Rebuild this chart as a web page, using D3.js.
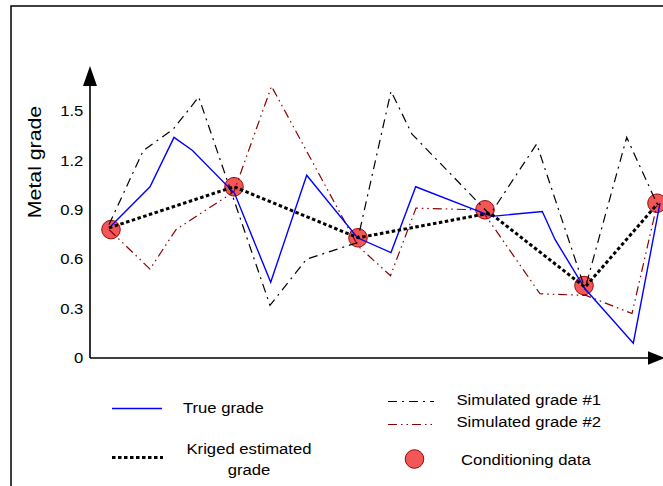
<!DOCTYPE html>
<html>
<head>
<meta charset="utf-8">
<script src="https://cdn.jsdelivr.net/npm/d3@7"></script>
<style>
  body { margin: 0; background: #fff; }
  text { font-family: "Liberation Sans", Arial, sans-serif; fill: #000; }
</style>
</head>
<body>
<div id="chart-area"></div>
<script>
// location along the profile (arbitrary units) and metal grade
var condX = [2.1, 14.4, 26.8, 39.5, 49.4, 56.7];
var condGrade = [0.78, 1.04, 0.73, 0.90, 0.44, 0.94];

var krigedX = [1.9, 14.4, 26.8, 40.0, 49.5, 56.8];
var krigedGrade = [0.79, 1.04, 0.73, 0.88, 0.43, 0.94];

var trueX = [1.9, 6.0, 8.4, 10.25, 14.45, 18.07, 21.67, 26.75, 30.1, 32.57, 40.17, 45.23, 46.5, 49.5, 54.33, 57.0];
var trueGrade = [0.79, 1.04, 1.34, 1.26, 1.00, 0.46, 1.11, 0.73, 0.64, 1.04, 0.86, 0.89, 0.72, 0.42, 0.09, 0.94];

var sim1X = [1.9, 5.33, 8.33, 10.87, 18.0, 21.65, 26.7, 30.1, 32.2, 40.0, 44.67, 49.5, 53.67, 56.67];
var sim1Grade = [0.81, 1.26, 1.39, 1.585, 0.32, 0.60, 0.70, 1.62, 1.36, 0.87, 1.30, 0.42, 1.34, 0.94];

var sim2X = [1.9, 6.0, 8.6, 14.4, 18.15, 26.8, 30.05, 32.6, 38.6, 39.5, 45.0, 49.6, 54.2, 56.7];
var sim2Grade = [0.78, 0.54, 0.78, 1.01, 1.65, 0.68, 0.50, 0.91, 0.90, 0.87, 0.39, 0.38, 0.27, 0.93];

var tickValues = [0, 0.3, 0.6, 0.9, 1.2, 1.5];
var tickLabels = ["0", "0.3", "0.6", "0.9", "1.2", "1.5"];

var width = 663, height = 486;
var stretch = "scale(1.15,1)";

var svg = d3.select("#chart-area")
        .append("svg")
                .attr("width", width)
                .attr("height", height);

// outer frame
svg.append("rect")
        .attr("x", 11).attr("y", 6)
        .attr("width", 700).attr("height", 520)
        .attr("fill", "none")
        .attr("stroke", "#000")
        .attr("stroke-width", 1.5);

var x = d3.scaleLinear().domain([0, 57]).range([90, 660]);
var y = d3.scaleLinear().domain([0, 1.5]).range([358, 111]);

// axes with arrows
svg.append("line")
        .attr("x1", 90).attr("y1", 358).attr("x2", 90).attr("y2", 80)
        .attr("stroke", "#000").attr("stroke-width", 1.6);
svg.append("path")
        .attr("d", "M90,66 L97,86 L83,86 Z").attr("fill", "#000");
svg.append("line")
        .attr("x1", 90).attr("y1", 358).attr("x2", 652).attr("y2", 358)
        .attr("stroke", "#000").attr("stroke-width", 1.6);
svg.append("path")
        .attr("d", "M665,358 L648,351.3 L648,364.7 Z").attr("fill", "#000");

var yAxisCall = d3.axisLeft(y)
        .tickValues(tickValues)
        .tickFormat((d, i) => tickLabels[i])
        .tickSize(0)
        .tickPadding(5.8);
var yAxis = svg.append("g")
        .attr("class", "y-axis")
        .attr("transform", "translate(90,0)")
        .call(yAxisCall);
yAxis.select(".domain").remove();
yAxis.selectAll("text")
        .attr("font-family", "Liberation Sans, Arial, sans-serif")
        .attr("font-size", "14.5px")
        .attr("fill", "#000")
        .attr("transform", stretch);

svg.append("text")
        .attr("class", "y-axis-lable")
        .attr("transform", "translate(35,162) rotate(-90) " + stretch)
        .attr("dy", "0.35em")
        .attr("font-size", "18.5px")
        .attr("text-anchor", "middle")
        .text("Metal grade");

// conditioning data
svg.selectAll("circle.cond")
        .data(condX)
        .enter()
        .append("circle")
        .attr("class", "cond")
        .attr("cx", d => x(d))
        .attr("cy", (d, i) => y(condGrade[i]))
        .attr("r", 9.3)
        .attr("fill", "#f25656")
        .attr("stroke", "#9a0a0a")
        .attr("stroke-width", 1);

var line = d3.line().x(d => x(d[0])).y(d => y(d[1]));
var zip = (xs, ys) => xs.map((d, i) => [d, ys[i]]);

var series = [
        { name: "sim2", pts: zip(sim2X, sim2Grade), color: "#8b0000", w: 1.2, dash: "9,4,1.5,4,1.5,4" },
        { name: "sim1", pts: zip(sim1X, sim1Grade), color: "#000", w: 1.2, dash: "9,5,2,5" },
        { name: "true", pts: zip(trueX, trueGrade), color: "#0000ff", w: 1.4, dash: null },
        { name: "kriged", pts: zip(krigedX, krigedGrade), color: "#000", w: 3, dash: "3.5,2.5" }
];

series.forEach(s => {
        svg.append("path")
                .attr("d", line(s.pts))
                .attr("fill", "none")
                .attr("stroke", s.color)
                .attr("stroke-width", s.w)
                .attr("stroke-dasharray", s.dash);
});

// legend
function legendLine(x1, x2, yy, s) {
        svg.append("line")
                .attr("x1", x1).attr("x2", x2).attr("y1", yy).attr("y2", yy)
                .attr("stroke", s.color)
                .attr("stroke-width", s.w)
                .attr("stroke-dasharray", s.dash);
}
function legendText(tx, ty, str, anchor) {
        svg.append("text")
                .attr("transform", "translate(" + tx + "," + ty + ") " + stretch)
                .attr("dy", "0.35em")
                .attr("font-size", "14.5px")
                .attr("text-anchor", anchor || "start")
                .text(str);
}

legendLine(112, 162, 408.5, series[2]);
legendText(183, 408, "True grade");

legendLine(112, 163, 457.5, series[3]);
legendText(249, 448.5, "Kriged estimated", "middle");
legendText(249, 469.5, "grade", "middle");

legendLine(388, 434, 401.5, series[1]);
legendText(456.5, 399.5, "Simulated grade #1");

legendLine(388, 434, 424.5, series[0]);
legendText(456.5, 422, "Simulated grade #2");

svg.append("circle")
        .attr("cx", 414.5).attr("cy", 459)
        .attr("r", 9.3)
        .attr("fill", "#f25656")
        .attr("stroke", "#9a0a0a")
        .attr("stroke-width", 1);
legendText(461, 459.5, "Conditioning data");
</script>
</body>
</html>
